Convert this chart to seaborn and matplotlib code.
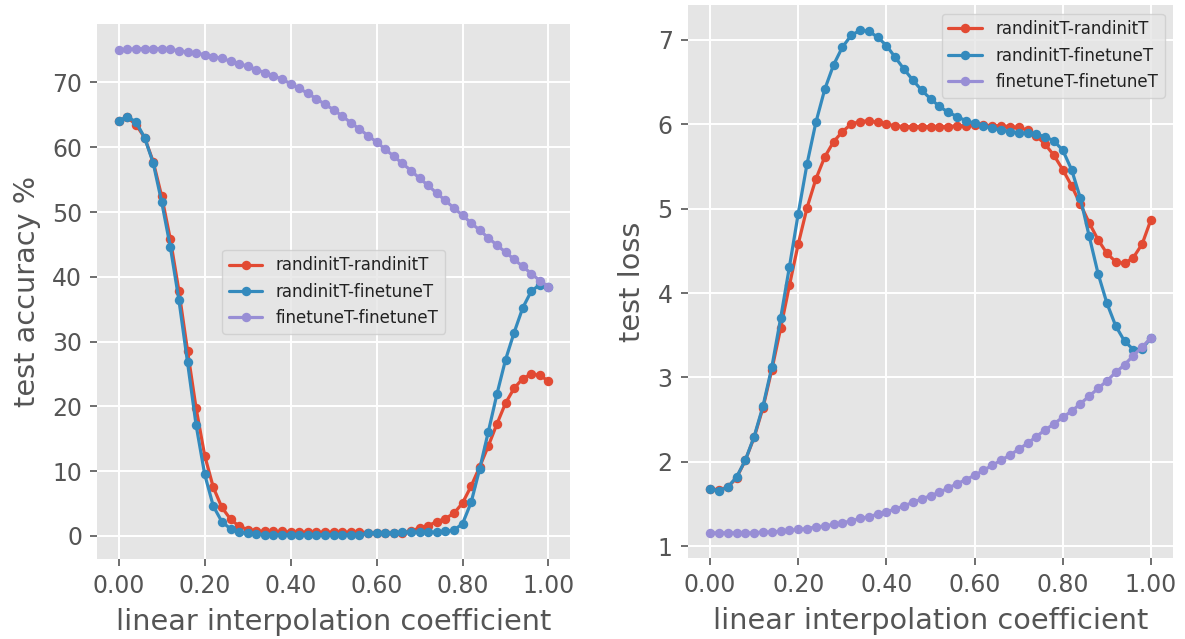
import numpy as np
import pandas as pd
import matplotlib
matplotlib.use("Agg")
import matplotlib.pyplot as plt
from matplotlib.ticker import FormatStrFormatter
import seaborn as sns

coef = [round(i * 0.02, 2) for i in range(51)]
series_names = ["randinitT-randinitT", "randinitT-finetuneT", "finetuneT-finetuneT"]

acc_rand_rand = [64.1, 64.6, 63.5, 61.5, 57.8, 52.4, 45.8, 37.8, 28.6, 19.7,
                 12.4, 7.5, 4.4, 2.6, 1.5, 1.0, 0.8, 0.7, 0.7, 0.7,
                 0.6, 0.6, 0.6, 0.6, 0.6, 0.6, 0.6, 0.6, 0.6, 0.5,
                 0.5, 0.4, 0.4, 0.5, 0.8, 1.2, 1.6, 2.2, 2.7, 3.5,
                 5.1, 7.7, 10.7, 13.9, 17.3, 20.5, 22.8, 24.3, 25.0, 24.8,
                 23.9]
acc_rand_fine = [64.1, 64.7, 63.9, 61.5, 57.6, 51.5, 44.6, 36.4, 26.8, 17.1,
                 9.5, 4.6, 2.2, 1.1, 0.6, 0.4, 0.3, 0.2, 0.2, 0.2,
                 0.2, 0.2, 0.2, 0.2, 0.2, 0.2, 0.2, 0.2, 0.2, 0.4,
                 0.5, 0.5, 0.5, 0.6, 0.6, 0.6, 0.6, 0.6, 0.7, 0.9,
                 1.9, 5.2, 10.4, 16.1, 21.9, 27.2, 31.4, 35.2, 37.8, 38.8,
                 38.5]
acc_fine_fine = [75.0, 75.1, 75.2, 75.2, 75.2, 75.2, 75.1, 74.9, 74.7, 74.5,
                 74.3, 74.0, 73.7, 73.3, 72.9, 72.5, 72.0, 71.5, 71.0, 70.5,
                 69.8, 69.1, 68.3, 67.5, 66.6, 65.8, 64.8, 63.8, 62.8, 61.8,
                 60.8, 59.7, 58.6, 57.5, 56.4, 55.2, 54.1, 52.9, 51.8, 50.6,
                 49.5, 48.3, 47.2, 46.0, 44.9, 43.8, 42.7, 41.6, 40.5, 39.4,
                 38.5]

loss_rand_rand = [1.68, 1.67, 1.70, 1.81, 2.02, 2.29, 2.64, 3.09, 3.58, 4.09,
                  4.58, 5.01, 5.35, 5.61, 5.79, 5.91, 6.00, 6.03, 6.04, 6.02,
                  6.00, 5.98, 5.97, 5.97, 5.97, 5.97, 5.97, 5.97, 5.98, 5.98,
                  5.99, 5.99, 5.98, 5.98, 5.97, 5.96, 5.93, 5.86, 5.76, 5.63,
                  5.46, 5.27, 5.05, 4.83, 4.63, 4.47, 4.37, 4.35, 4.42, 4.58,
                  4.87]
loss_rand_fine = [1.68, 1.66, 1.70, 1.82, 2.02, 2.30, 2.66, 3.12, 3.70, 4.31,
                  4.94, 5.53, 6.02, 6.41, 6.70, 6.91, 7.05, 7.11, 7.10, 7.03,
                  6.93, 6.79, 6.65, 6.52, 6.40, 6.30, 6.21, 6.14, 6.09, 6.04,
                  6.01, 5.98, 5.95, 5.93, 5.91, 5.90, 5.89, 5.88, 5.85, 5.80,
                  5.69, 5.46, 5.12, 4.67, 4.23, 3.88, 3.61, 3.43, 3.33, 3.34,
                  3.47]
loss_fine_fine = [1.16, 1.16, 1.16, 1.16, 1.16, 1.16, 1.17, 1.17, 1.18, 1.19,
                  1.20, 1.21, 1.23, 1.24, 1.26, 1.28, 1.30, 1.33, 1.35, 1.38,
                  1.41, 1.44, 1.48, 1.52, 1.56, 1.60, 1.64, 1.69, 1.74, 1.79,
                  1.84, 1.90, 1.96, 2.02, 2.08, 2.15, 2.22, 2.30, 2.38, 2.45,
                  2.53, 2.60, 2.69, 2.78, 2.87, 2.96, 3.06, 3.15, 3.26, 3.36,
                  3.47]

x_ticks = [0.0, 0.2, 0.4, 0.6, 0.8, 1.0]
acc_ticks = [0, 10, 20, 30, 40, 50, 60, 70]
loss_ticks = [1, 2, 3, 4, 5, 6, 7]
colors = ["#E24A33", "#348ABD", "#988ED5"]

sns.set_theme(style="darkgrid", rc={
    "axes.facecolor": "#E5E5E5",
    "grid.color": "white",
    "grid.linewidth": 1.4,
    "axes.edgecolor": "#E5E5E5",
    "xtick.bottom": True,
    "ytick.left": True,
    "xtick.color": "#555555",
    "ytick.color": "#555555",
    "xtick.major.size": 5,
    "ytick.major.size": 5,
    "xtick.major.width": 1.2,
    "ytick.major.width": 1.2,
    "axes.labelcolor": "#555555",
})
plt.rcParams["font.family"] = ["DejaVu Sans"]

fig = plt.figure(figsize=(11.85, 6.39), dpi=100)
ax1 = fig.add_axes([0.0821, 0.1252, 0.3989, 0.8365])
ax2 = fig.add_axes([0.5806, 0.1268, 0.4093, 0.8650])

def draw(ax, ys, ylabel, yticks, legend_loc):
    df = pd.DataFrame({
        "coef": coef * 3,
        "value": ys[0] + ys[1] + ys[2],
        "series": [series_names[0]] * 51 + [series_names[1]] * 51 + [series_names[2]] * 51,
    })
    sns.lineplot(data=df, x="coef", y="value", hue="series", hue_order=series_names,
                 palette=colors, marker="o", markersize=6.8, markeredgewidth=0,
                 linewidth=2.3, ax=ax, legend=True)
    ax.set_xticks(x_ticks)
    ax.xaxis.set_major_formatter(FormatStrFormatter("%.2f"))
    ax.set_yticks(yticks)
    ax.tick_params(axis="x", labelsize=17, pad=6)
    ax.tick_params(axis="y", labelsize=17, pad=6)
    ax.set_xlabel("linear interpolation coefficient", fontsize=20.7, labelpad=7)
    ax.set_ylabel(ylabel, fontsize=20.7, labelpad=8)
    for s in ax.spines.values():
        s.set_visible(False)
    leg = ax.legend(loc=legend_loc, fontsize=12, frameon=True)
    leg.get_frame().set_facecolor("#E5E5E5")
    leg.get_frame().set_edgecolor("#CCCCCC")
    for t in leg.get_texts():
        t.set_color("#222222")

draw(ax1, [acc_rand_rand, acc_rand_fine, acc_fine_fine], "test accuracy %", acc_ticks, "center")
draw(ax2, [loss_rand_rand, loss_rand_fine, loss_fine_fine], "test loss", loss_ticks, "upper right")

fig.savefig("out.png", dpi=100)
